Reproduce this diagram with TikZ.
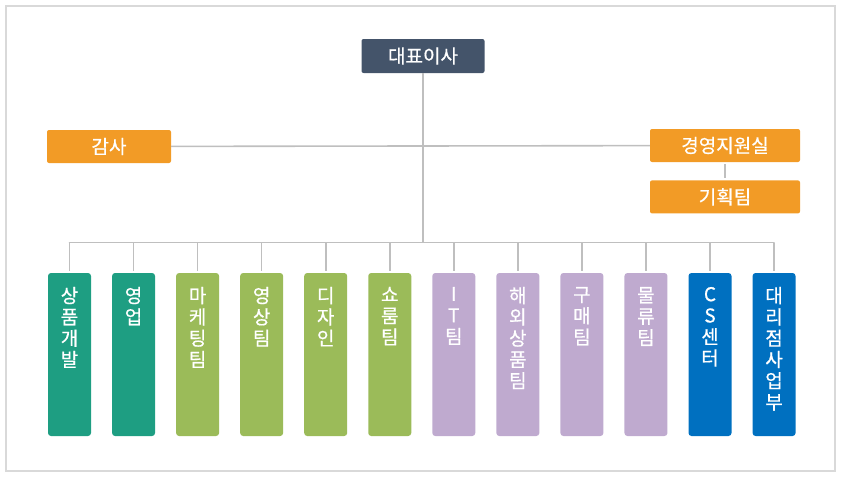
\documentclass[tikz,border=0pt]{standalone}
\usepackage{fontspec}
\setmainfont{Noto Sans CJK KR}[FakeBold=0.6]
\usetikzlibrary{positioning}

\definecolor{ceoblue}{RGB}{68,84,106}
\definecolor{staffor}{RGB}{242,155,38}
\definecolor{teamteal}{RGB}{30,158,130}
\definecolor{teamgreen}{RGB}{155,187,89}
\definecolor{teamlav}{RGB}{191,170,207}
\definecolor{teamblue}{RGB}{0,112,192}
\definecolor{linegray}{RGB}{191,191,191}
\definecolor{framegray}{RGB}{217,217,217}

% one character per line, text from the top of the column
\newcommand{\coltext}[1]{\parbox[c][163pt][t]{43pt}{\centering\vspace*{14pt}#1}}

\begin{document}
\begin{tikzpicture}[
            x = 1pt, y = -1pt, % one unit per pixel, y downwards
            node distance = 21.05pt, % gap between the columns
            head/.style = {fill=ceoblue, text=white, minimum width=123pt,
                minimum height=34pt, inner sep=0pt, rounded corners=2pt,
                font=\fontsize{19}{21}\selectfont},
            staff/.style = {fill=staffor, text=white, minimum height=33pt,
                inner sep=0pt, rounded corners=2pt,
                font=\fontsize{19}{21}\selectfont},
            team/.style = {text=white, inner sep=0pt, outer sep=0pt,
                rounded corners=3pt, font=\fontsize{19}{21.3}\selectfont},
            link/.style = {draw=linegray, line width=1.6pt} % connector style
        ]

    \useasboundingbox (0,0) rectangle (843,479);
    \draw[framegray, line width=1.2pt] (6,6) rectangle (835,471);

    \node[head] (CEO) at (423,56) {대표이사};
    \node[staff, minimum width=124pt] (AUD) at (109,146.5) {감사};
    \node[staff, minimum width=150pt] (MGT) at (725,145.5) {경영지원실};
    \node[staff, minimum width=150pt, below=18pt of MGT] (PLN) {기획팀};

    \node[team, fill=teamteal] (T1) at (69.5,354.5) {\coltext{상\\품\\개\\발}};
    \node[team, fill=teamteal, right=of T1] (T2) {\coltext{영\\업}};
    \node[team, fill=teamgreen, right=of T2] (T3) {\coltext{마\\케\\팅\\팀}};
    \node[team, fill=teamgreen, right=of T3] (T4) {\coltext{영\\상\\팀}};
    \node[team, fill=teamgreen, right=of T4] (T5) {\coltext{디\\자\\인}};
    \node[team, fill=teamgreen, right=of T5] (T6) {\coltext{쇼\\룸\\팀}};
    \node[team, fill=teamlav, right=of T6] (T7) {\coltext{I\\T\\팀}};
    \node[team, fill=teamlav, right=of T7] (T8) {\coltext{해\\외\\상\\품\\팀}};
    \node[team, fill=teamlav, right=of T8] (T9) {\coltext{구\\매\\팀}};
    \node[team, fill=teamlav, right=of T9] (T10) {\coltext{물\\류\\팀}};
    \node[team, fill=teamblue, right=of T10] (T11) {\coltext{C\\S\\센\\터}};
    \node[team, fill=teamblue, right=of T11] (T12) {\coltext{대\\리\\점\\사\\업\\부}};

    \coordinate (BUS) at (423,242.5);

    \draw[link] (CEO) -- (CEO |- BUS);
    \draw[link] (AUD) -- (MGT);
    \draw[link, shorten <=2pt, shorten >=2pt] (MGT) -- (PLN);
    \draw[link, line cap=round] (T1 |- BUS) -- (T12 |- BUS);

    \draw[link, shorten >=2.5pt] (T1 |- BUS) -- (T1);
    \draw[link, shorten >=2.5pt] (T2 |- BUS) -- (T2);
    \draw[link, shorten >=2.5pt] (T3 |- BUS) -- (T3);
    \draw[link, shorten >=2.5pt] (T4 |- BUS) -- (T4);
    \draw[link, shorten >=2.5pt] (T5 |- BUS) -- (T5);
    \draw[link, shorten >=2.5pt] (T6 |- BUS) -- (T6);
    \draw[link, shorten >=2.5pt] (T7 |- BUS) -- (T7);
    \draw[link, shorten >=2.5pt] (T8 |- BUS) -- (T8);
    \draw[link, shorten >=2.5pt] (T9 |- BUS) -- (T9);
    \draw[link, shorten >=2.5pt] (T10 |- BUS) -- (T10);
    \draw[link, shorten >=2.5pt] (T11 |- BUS) -- (T11);
    \draw[link, shorten >=2.5pt] (T12 |- BUS) -- (T12);

\end{tikzpicture}
\end{document}
